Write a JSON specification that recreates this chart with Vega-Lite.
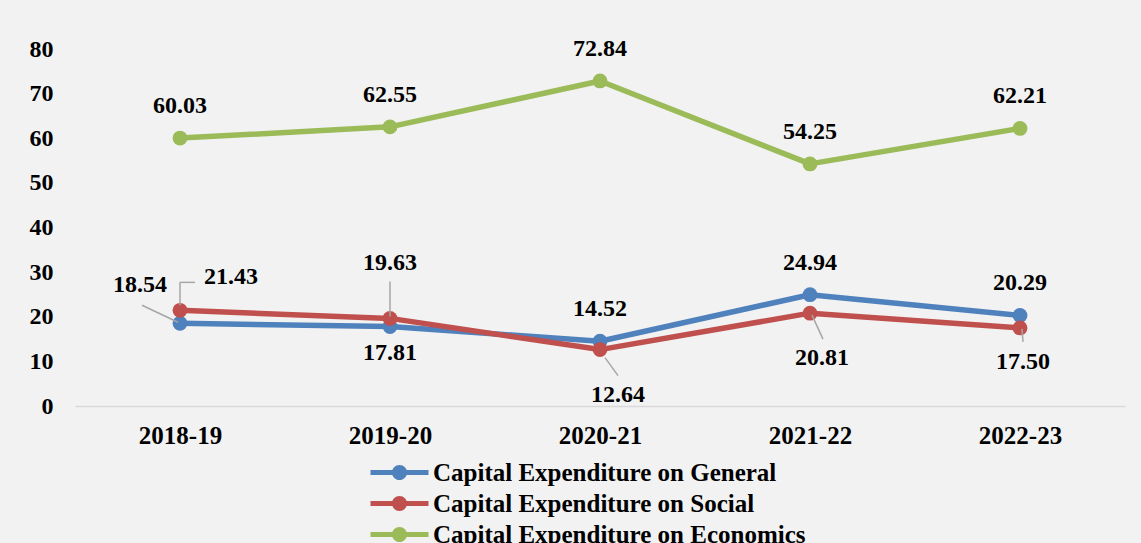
{
  "$schema": "https://vega.github.io/schema/vega-lite/v6.json",
  "autosize": {"type": "none"},
  "width": 1050,
  "height": 357,
  "padding": {"left": 75, "top": 49, "right": 16, "bottom": 137},
  "background": "#f2f2f2",
  "config": {
    "view": {"stroke": null},
    "font": "Liberation Serif",
    "text": {"font": "Liberation Serif", "fontWeight": "bold", "fontSize": 24, "color": "#000000", "baseline": "middle", "align": "center"},
    "rule": {"color": "#a6a6a6", "strokeWidth": 1.5}
  },
  "data": {
    "values": [
      {"year": "2018-19", "series": "Capital Expenditure on General", "value": 18.54},
      {"year": "2019-20", "series": "Capital Expenditure on General", "value": 17.81},
      {"year": "2020-21", "series": "Capital Expenditure on General", "value": 14.52},
      {"year": "2021-22", "series": "Capital Expenditure on General", "value": 24.94},
      {"year": "2022-23", "series": "Capital Expenditure on General", "value": 20.29},
      {"year": "2018-19", "series": "Capital Expenditure on Social", "value": 21.43},
      {"year": "2019-20", "series": "Capital Expenditure on Social", "value": 19.63},
      {"year": "2020-21", "series": "Capital Expenditure on Social", "value": 12.64},
      {"year": "2021-22", "series": "Capital Expenditure on Social", "value": 20.81},
      {"year": "2022-23", "series": "Capital Expenditure on Social", "value": 17.50},
      {"year": "2018-19", "series": "Capital Expenditure on Economics", "value": 60.03},
      {"year": "2019-20", "series": "Capital Expenditure on Economics", "value": 62.55},
      {"year": "2020-21", "series": "Capital Expenditure on Economics", "value": 72.84},
      {"year": "2021-22", "series": "Capital Expenditure on Economics", "value": 54.25},
      {"year": "2022-23", "series": "Capital Expenditure on Economics", "value": 62.21}
    ]
  },
  "encoding": {
    "x": {
      "field": "year", "type": "nominal", "sort": null,
      "scale": {"type": "point", "padding": 0.5},
      "axis": {
        "title": null, "labelAngle": 0, "ticks": false,
        "domainColor": "#d9d9d9", "domainWidth": 1.5,
        "labelFont": "Liberation Serif", "labelFontWeight": "bold", "labelFontSize": 25,
        "labelColor": "#000000", "labelPadding": 17, "grid": false
      }
    },
    "y": {
      "field": "value", "type": "quantitative",
      "scale": {"domain": [0, 80], "nice": false, "zero": true},
      "axis": {
        "title": null, "values": [0, 10, 20, 30, 40, 50, 60, 70, 80],
        "domain": false, "ticks": false, "grid": false,
        "labelFont": "Liberation Serif", "labelFontWeight": "bold", "labelFontSize": 24,
        "labelColor": "#000000", "labelPadding": 22
      }
    }
  },
  "layer": [
    {
      "mark": {"type": "line", "strokeWidth": 5.5, "strokeCap": "round", "strokeJoin": "round"},
      "encoding": {
        "color": {"field": "series", "type": "nominal",
          "scale": {"domain": ["Capital Expenditure on General", "Capital Expenditure on Social", "Capital Expenditure on Economics"],
                    "range": ["#4f81bd", "#c0504d", "#9bbb59"]},
          "legend": {
            "title": null, "orient": "none", "legendX": 310, "legendY": 409, "direction": "vertical",
            "symbolType": "M-2,-0.17L2,-0.17L2,0.17L-2,0.17Z M0.52,0A0.52,0.52,0,1,1,-0.52,0A0.52,0.52,0,1,1,0.52,0Z",
            "symbolSize": 841, "symbolStrokeWidth": 0, "symbolOpacity": 1,
            "labelFont": "Liberation Serif", "labelFontWeight": "bold", "labelFontSize": 25,
            "labelColor": "#000000", "labelOffset": 19, "labelLimit": 600, "rowPadding": 3
          }
        },
        "detail": {"field": "series"}
      }
    },
    {
      "mark": {"type": "point", "filled": true, "size": 220, "opacity": 1},
      "encoding": {
        "fill": {"field": "series", "type": "nominal",
          "scale": {"domain": ["Capital Expenditure on General", "Capital Expenditure on Social", "Capital Expenditure on Economics"],
                    "range": ["#4f81bd", "#c0504d", "#9bbb59"]},
          "legend": null
        }
      }
    },
    {
      "transform": [{"filter": "datum.series === 'Capital Expenditure on Economics' || (datum.series === 'Capital Expenditure on General' && (datum.year === '2020-21' || datum.year === '2021-22' || datum.year === '2022-23'))"}],
      "mark": {"type": "text", "dy": -32},
      "encoding": {"text": {"field": "value", "type": "quantitative", "format": ".2f"}}
    },
    {
      "transform": [{"filter": "datum.series === 'Capital Expenditure on General' && datum.year === '2018-19'"}],
      "mark": {"type": "text", "dx": -40, "dy": -38},
      "encoding": {"text": {"field": "value", "type": "quantitative", "format": ".2f"}}
    },
    {
      "transform": [{"filter": "datum.series === 'Capital Expenditure on General' && datum.year === '2019-20'"}],
      "mark": {"type": "text", "dy": 26},
      "encoding": {"text": {"field": "value", "type": "quantitative", "format": ".2f"}}
    },
    {
      "transform": [{"filter": "datum.series === 'Capital Expenditure on Social' && datum.year === '2018-19'"}],
      "mark": {"type": "text", "dx": 51, "dy": -33},
      "encoding": {"text": {"field": "value", "type": "quantitative", "format": ".2f"}}
    },
    {
      "transform": [{"filter": "datum.series === 'Capital Expenditure on Social' && datum.year === '2019-20'"}],
      "mark": {"type": "text", "dy": -55},
      "encoding": {"text": {"field": "value", "type": "quantitative", "format": ".2f"}}
    },
    {
      "transform": [{"filter": "datum.series === 'Capital Expenditure on Social' && datum.year === '2020-21'"}],
      "mark": {"type": "text", "dx": 18, "dy": 45},
      "encoding": {"text": {"field": "value", "type": "quantitative", "format": ".2f"}}
    },
    {
      "transform": [{"filter": "datum.series === 'Capital Expenditure on Social' && datum.year === '2021-22'"}],
      "mark": {"type": "text", "dx": 12, "dy": 45},
      "encoding": {"text": {"field": "value", "type": "quantitative", "format": ".2f"}}
    },
    {
      "transform": [{"filter": "datum.series === 'Capital Expenditure on Social' && datum.year === '2022-23'"}],
      "mark": {"type": "text", "dx": 3, "dy": 34},
      "encoding": {"text": {"field": "value", "type": "quantitative", "format": ".2f"}}
    },
    {
      "transform": [{"filter": "datum.series === 'Capital Expenditure on General' && datum.year === '2018-19'"}],
      "mark": {"type": "rule", "xOffset": -38, "yOffset": -18, "x2Offset": -2, "y2Offset": -1},
      "encoding": {"x2": {"field": "year"}, "y2": {"field": "value"}}
    },
    {
      "transform": [{"filter": "datum.series === 'Capital Expenditure on Social' && datum.year === '2018-19'"}],
      "mark": {"type": "rule", "xOffset": 0, "yOffset": -5, "x2Offset": 0, "y2Offset": -28},
      "encoding": {"x2": {"field": "year"}, "y2": {"field": "value"}}
    },
    {
      "transform": [{"filter": "datum.series === 'Capital Expenditure on Social' && datum.year === '2018-19'"}],
      "mark": {"type": "rule", "xOffset": 0, "yOffset": -28, "x2Offset": 15, "y2Offset": -28},
      "encoding": {"x2": {"field": "year"}, "y2": {"field": "value"}}
    },
    {
      "transform": [{"filter": "datum.series === 'Capital Expenditure on Social' && datum.year === '2019-20'"}],
      "mark": {"type": "rule", "xOffset": 0, "yOffset": -37, "x2Offset": 0, "y2Offset": -2},
      "encoding": {"x2": {"field": "year"}, "y2": {"field": "value"}}
    },
    {
      "transform": [{"filter": "datum.series === 'Capital Expenditure on Social' && datum.year === '2020-21'"}],
      "mark": {"type": "rule", "xOffset": 5, "yOffset": 8, "x2Offset": 18, "y2Offset": 26},
      "encoding": {"x2": {"field": "year"}, "y2": {"field": "value"}}
    },
    {
      "transform": [{"filter": "datum.series === 'Capital Expenditure on Social' && datum.year === '2021-22'"}],
      "mark": {"type": "rule", "xOffset": 2, "yOffset": 2, "x2Offset": 13, "y2Offset": 26},
      "encoding": {"x2": {"field": "year"}, "y2": {"field": "value"}}
    },
    {
      "transform": [{"filter": "datum.series === 'Capital Expenditure on Social' && datum.year === '2022-23'"}],
      "mark": {"type": "rule", "xOffset": 2, "yOffset": 1, "x2Offset": 3, "y2Offset": 14},
      "encoding": {"x2": {"field": "year"}, "y2": {"field": "value"}}
    }
  ]
}
